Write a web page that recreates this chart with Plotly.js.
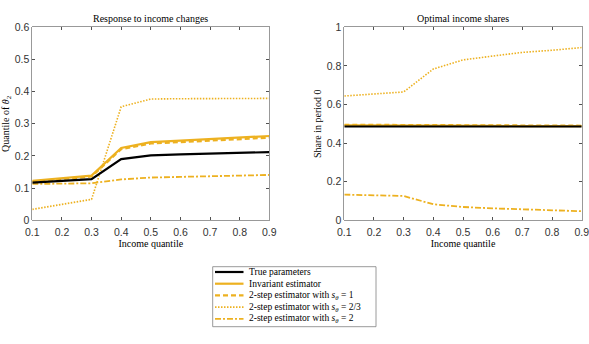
<!DOCTYPE html>
<html><head><meta charset="utf-8">
<script src="https://cdn.plot.ly/plotly-3.0.1.min.js"></script>
<style>html,body{margin:0;padding:0;background:#fff}#chart{width:589px;height:344px}</style>
</head><body><div id="chart"></div>
<script>
const quantiles = [0.1,0.2,0.3,0.4,0.5,0.6,0.7,0.8,0.9];
// Left panel: Response to income changes
const respTrue      = [0.117,0.122,0.128,0.190,0.202,0.205,0.207,0.210,0.212];
const respInvariant = [0.123,0.131,0.139,0.225,0.243,0.248,0.253,0.257,0.262];
const respS1        = [0.120,0.128,0.136,0.221,0.239,0.243,0.248,0.252,0.257];
const respS23       = [0.034,0.050,0.065,0.353,0.377,0.378,0.378,0.379,0.379];
const respS2        = [0.113,0.114,0.115,0.127,0.133,0.135,0.137,0.139,0.141];
// Right panel: Optimal income shares
const shareTrue      = [0.486,0.486,0.486,0.486,0.486,0.486,0.486,0.486,0.486];
const shareInvariant = [0.492,0.492,0.491,0.490,0.489,0.489,0.488,0.488,0.488];
const shareS1        = [0.495,0.494,0.494,0.492,0.491,0.490,0.490,0.490,0.490];
const shareS23       = [0.644,0.655,0.665,0.784,0.831,0.851,0.870,0.881,0.895];
const shareS2        = [0.133,0.130,0.126,0.083,0.069,0.062,0.057,0.052,0.047];

const seriesNames = ['True parameters','Invariant estimator',
  '2-step estimator with <i>s</i><sub><i>θ</i></sub> = 1',
  '2-step estimator with <i>s</i><sub><i>θ</i></sub> = 2/3',
  '2-step estimator with <i>s</i><sub><i>θ</i></sub> = 2'];
const xTickLabels = ['0.1','0.2','0.3','0.4','0.5','0.6','0.7','0.8','0.9'];

const orange = '#EDB120';
const styles = [
  {color:'#000000', width:2.2, dash:'solid'},
  {color:orange, width:2.2, dash:'solid'},
  {color:orange, width:2.2, dash:'5px,3px'},
  {color:orange, width:1.6, dash:'1.5px,1.5px'},
  {color:orange, width:1.8, dash:'6px,2px,2px,2px'}
];
const left = [respTrue, respInvariant, respS1, respS23, respS2];
const right = [shareTrue, shareInvariant, shareS1, shareS23, shareS2];
const order = [3,4,2,1,0];
const traces = [];
order.forEach(i => traces.push({x:quantiles, y:left[i], xaxis:'x', yaxis:'y', mode:'lines', line:styles[i], name:seriesNames[i], showlegend:false}));
order.forEach(i => traces.push({x:quantiles, y:right[i], xaxis:'x2', yaxis:'y2', mode:'lines', line:styles[i], name:seriesNames[i], showlegend:false}));

const W=589,H=344;
const px = v => v/W, py = v => 1 - v/H;
const axCommon = {showline:true, linecolor:'#808080', linewidth:0.8, mirror:'ticks', ticks:'inside', ticklen:3, tickcolor:'#262626', tickwidth:0.8,
  showgrid:false, zeroline:false, ticklabeloverflow:'allow', tickfont:{family:'Liberation Sans, Arial, sans-serif', size:10.5, color:'#333'}};
const titleFont = {family:'Liberation Serif, Times New Roman, serif', size:10, color:'#000'};

const layout = {
  width:W, height:H, margin:{l:0,r:0,t:0,b:0}, paper_bgcolor:'#fff', plot_bgcolor:'#fff', showlegend:false,
  xaxis: Object.assign({}, axCommon, {domain:[px(32.3), px(269.3)], range:[0.1,0.9], tickvals:quantiles, ticktext:xTickLabels, ticklabelstandoff:2,
    title:{text:'Income quantile', font:titleFont, standoff:1}}),
  yaxis: Object.assign({}, axCommon, {domain:[py(220.3), py(27.3)], range:[0,0.6], dtick:0.1, tickformat:'.1~f',
    title:{text:'Quantile of <i>θ</i><sub>2</sub>', font:titleFont, standoff:3}}),
  xaxis2: Object.assign({}, axCommon, {domain:[px(344.3), px(581.7)], range:[0.1,0.9], tickvals:quantiles, ticktext:xTickLabels, anchor:'y2', ticklabelstandoff:2,
    title:{text:'Income quantile', font:titleFont, standoff:1}}),
  yaxis2: Object.assign({}, axCommon, {domain:[py(220.3), py(27.3)], range:[0,1], dtick:0.2, tickformat:'.1~f', anchor:'x2',
    title:{text:'Share in period 0', font:titleFont, standoff:3}}),
  annotations:[
    {text:'Response to income changes', xref:'paper', yref:'paper', x:px(150.8), y:py(19), xanchor:'center', yanchor:'middle', showarrow:false, font:titleFont},
    {text:'Optimal income shares', xref:'paper', yref:'paper', x:px(463), y:py(19), xanchor:'center', yanchor:'middle', showarrow:false, font:titleFont}
  ],
  shapes:[
    {type:'rect', xref:'paper', yref:'paper', x0:px(212.7), x1:px(376), y0:py(266.7), y1:py(326.7), line:{color:'#808080', width:0.8}, fillcolor:'#fff'}
  ]
};
const rowY0 = 272, rowStep = 11.7;
for (let i=0;i<5;i++){
  const y = rowY0 + i*rowStep;
  layout.shapes.push({type:'line', xref:'paper', yref:'paper', x0:px(215), x1:px(243.5), y0:py(y), y1:py(y), line:styles[i]});
  layout.annotations.push({text:seriesNames[i], xref:'paper', yref:'paper', x:px(246.5), y:py(y), xanchor:'left', yanchor:'middle', showarrow:false,
    font:{family:'Liberation Serif, Times New Roman, serif', size:9.5, color:'#000'}});
}
Plotly.newPlot('chart', traces, layout, {staticPlot:true});
</script></body></html>
